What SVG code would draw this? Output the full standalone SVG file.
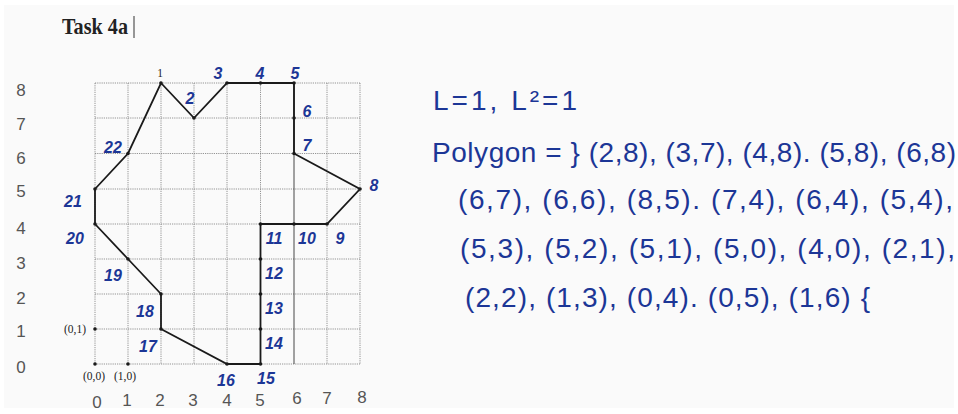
<svg xmlns="http://www.w3.org/2000/svg" width="958" height="414" viewBox="0 0 958 414">
<style>
.grid{stroke:#7a7a7a;stroke-width:0.8;stroke-dasharray:1.2 1;fill:none}
.poly{stroke:#1a1a1a;stroke-width:1.8;fill:none;stroke-linejoin:miter}
.v{fill:#1a1a1a}
.lab{font-family:"Liberation Sans",Arial,sans-serif;font-size:16px;fill:#1c3696;text-anchor:middle;font-style:italic;font-weight:bold}
.ser{font-family:"Liberation Serif","Times New Roman",serif;font-size:11.5px;fill:#222}
.ax{font-family:"Liberation Sans",Arial,sans-serif;font-size:17px;fill:#555;text-anchor:middle;font-weight:300}
.hw{font-family:"Liberation Sans",Arial,sans-serif;font-size:28px;fill:#1c3696}
</style>
<rect x="0" y="0" width="958" height="414" fill="#ffffff"/>
<rect x="4" y="5" width="950" height="403" fill="#fafafa"/>
<text x="62" y="34" font-family="Liberation Serif,'Times New Roman',serif" font-size="23" font-weight="bold" fill="#222" textLength="66" lengthAdjust="spacingAndGlyphs">Task 4a</text>
<line x1="134" y1="16" x2="134" y2="38" stroke="#333" stroke-width="1"/>
<g id="grid">
<path class="grid" d="M95 83V364M128 83V364M161 83V364M194 83V364M227 83V364M260.5 83V364M327 83V364M360 83V364M95 83H360M95 118H360M95 153.5H360M95 189H360M95 224H360M95 259H360M95 294H360M95 329H360M95 364H360"/>
<line x1="294" y1="83" x2="294" y2="364" stroke="#333" stroke-width="0.9"/>
</g>
<g id="connectors">
<polygon class="poly" points="161,83 194,118 227,83 260.5,83 294,83 294,118 294,153.5 360,189 327,224 294,224 260.5,224 260.5,259 260.5,294 260.5,329 260.5,364 227,364 161,329 161,294 128,259 95,224 95,189 128,153.5"/>
</g>
<g id="vertices" class="v">
<circle cx="161" cy="83" r="1.8"/><circle cx="194" cy="118" r="1.8"/><circle cx="227" cy="83" r="1.8"/><circle cx="260.5" cy="83" r="1.8"/><circle cx="294" cy="83" r="1.8"/><circle cx="294" cy="118" r="1.8"/><circle cx="294" cy="153.5" r="1.8"/><circle cx="360" cy="189" r="1.8"/><circle cx="327" cy="224" r="1.8"/><circle cx="294" cy="224" r="1.8"/><circle cx="260.5" cy="224" r="1.8"/><circle cx="260.5" cy="259" r="1.8"/><circle cx="260.5" cy="294" r="1.8"/><circle cx="260.5" cy="329" r="1.8"/><circle cx="260.5" cy="364" r="1.8"/><circle cx="227" cy="364" r="1.8"/><circle cx="161" cy="329" r="1.8"/><circle cx="161" cy="294" r="1.8"/><circle cx="128" cy="259" r="1.8"/><circle cx="95" cy="224" r="1.8"/><circle cx="95" cy="189" r="1.8"/><circle cx="128" cy="153.5" r="1.8"/>
<circle cx="95" cy="329" r="1.8"/><circle cx="95" cy="364" r="1.8"/><circle cx="128" cy="364" r="1.8"/>
</g>
<g id="node-labels">
<text class="ser" x="160" y="77" text-anchor="middle" font-size="12">1</text>
<text class="lab" x="190" y="104">2</text>
<text class="lab" x="218" y="79">3</text>
<text class="lab" x="260" y="79">4</text>
<text class="lab" x="295" y="79">5</text>
<text class="lab" x="307" y="117">6</text>
<text class="lab" x="307" y="151">7</text>
<text class="lab" x="374" y="191">8</text>
<text class="lab" x="340" y="244">9</text>
<text class="lab" x="307" y="244">10</text>
<text class="lab" x="274" y="244">11</text>
<text class="lab" x="274" y="279">12</text>
<text class="lab" x="274" y="314">13</text>
<text class="lab" x="274" y="349">14</text>
<text class="lab" x="266" y="384">15</text>
<text class="lab" x="226" y="386">16</text>
<text class="lab" x="148" y="352">17</text>
<text class="lab" x="145" y="317">18</text>
<text class="lab" x="113" y="281">19</text>
<text class="lab" x="75" y="244">20</text>
<text class="lab" x="73" y="207">21</text>
<text class="lab" x="113" y="153">22</text>
<text class="ser" x="64" y="333">(0,1)</text>
<text class="ser" x="83" y="380">(0,0)</text>
<text class="ser" x="114" y="380">(1,0)</text>
</g>
<g id="axes">
<text class="ax" x="21" y="96">8</text>
<text class="ax" x="21" y="130">7</text>
<text class="ax" x="21" y="164">6</text>
<text class="ax" x="21" y="197">5</text>
<text class="ax" x="21" y="234">4</text>
<text class="ax" x="21" y="269">3</text>
<text class="ax" x="21" y="304">2</text>
<text class="ax" x="21" y="337">1</text>
<text class="ax" x="21" y="373">0</text>
<text class="ax" x="97" y="408">0</text>
<text class="ax" x="127" y="406">1</text>
<text class="ax" x="160" y="406">2</text>
<text class="ax" x="193" y="406">3</text>
<text class="ax" x="227" y="406">4</text>
<text class="ax" x="260" y="406">5</text>
<text class="ax" x="297" y="404">6</text>
<text class="ax" x="327" y="404">7</text>
<text class="ax" x="362" y="403">8</text>
</g>
<g id="notes">
<text class="hw" x="433" y="110" textLength="144" lengthAdjust="spacing">L=1, L²=1</text>
<text class="hw" x="432" y="162" textLength="524" lengthAdjust="spacing">Polygon = } (2,8), (3,7), (4,8). (5,8), (6,8)</text>
<text class="hw" x="458" y="209" textLength="495" lengthAdjust="spacing">(6,7), (6,6), (8,5). (7,4), (6,4), (5,4),</text>
<text class="hw" x="460" y="258" textLength="495" lengthAdjust="spacing">(5,3), (5,2), (5,1), (5,0), (4,0), (2,1),</text>
<text class="hw" x="465" y="307" textLength="405" lengthAdjust="spacing">(2,2), (1,3), (0,4). (0,5), (1,6) {</text>
</g>
</svg>
